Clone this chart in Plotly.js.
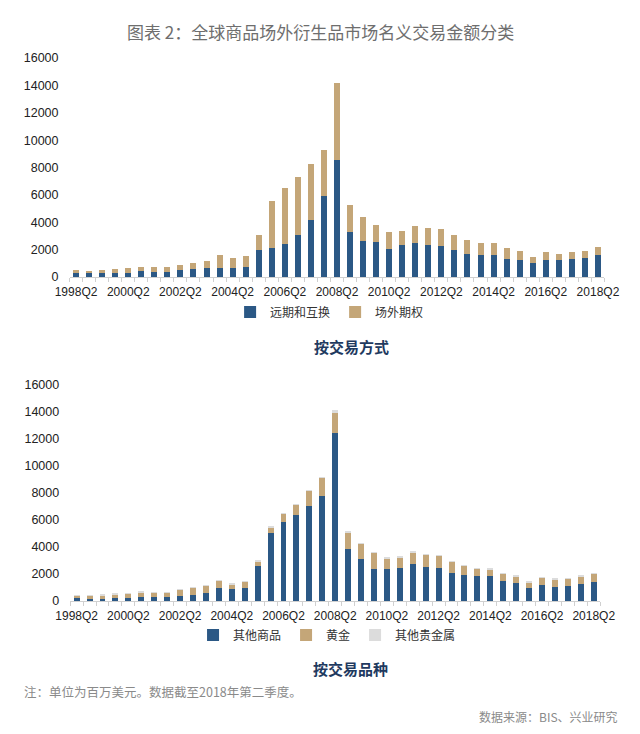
<!DOCTYPE html>
<html>
<head>
<meta charset="utf-8">
<script src="https://cdn.plot.ly/plotly-3.0.1.min.js"></script>
<style>html,body{margin:0;padding:0;background:#fff;}#chart{width:640px;height:734px;}</style>
</head>
<body>
<div id="chart"></div>
<script>
// Semi-annual periods 1998Q2 ... 2018Q2
const periods = [
  "1998Q2","1998Q4","1999Q2","1999Q4","2000Q2","2000Q4","2001Q2","2001Q4",
  "2002Q2","2002Q4","2003Q2","2003Q4","2004Q2","2004Q4","2005Q2","2005Q4",
  "2006Q2","2006Q4","2007Q2","2007Q4","2008Q2","2008Q4","2009Q2","2009Q4",
  "2010Q2","2010Q4","2011Q2","2011Q4","2012Q2","2012Q4","2013Q2","2013Q4",
  "2014Q2","2014Q4","2015Q2","2015Q4","2016Q2","2016Q4","2017Q2","2017Q4","2018Q2"
];
const tickLabels = ["1998Q2","2000Q2","2002Q2","2004Q2","2006Q2","2008Q2","2010Q2","2012Q2","2014Q2","2016Q2","2018Q2"];

// Panel 1: by transaction type
const forwardsSwaps = [270,270,270,320,320,410,360,340,490,610,660,680,680,750,1950,2120,2410,3070,4140,5950,8540,3280,2600,2530,2040,2310,2460,2360,2260,1950,1700,1610,1610,1310,1240,1000,1270,1240,1310,1360,1610];
const otcOptions   = [240,190,240,290,340,340,340,360,410,440,530,920,680,780,1090,3430,4110,4230,4130,3300,5600,1980,1800,1240,1240,1070,1260,1220,1220,1090,1000,900,900,810,660,480,530,440,490,540,560];

// Panel 2: by commodity type
const otherCommodities = [200,160,170,190,210,330,280,280,380,480,610,930,860,980,2600,5040,5840,6400,7050,7760,12460,3880,3100,2380,2380,2480,2710,2530,2430,2040,1920,1840,1840,1500,1350,980,1150,1030,1100,1250,1420];
const gold             = [180,200,210,290,290,270,280,280,400,450,490,540,340,400,320,400,590,720,1090,1320,1440,1160,1130,1190,700,720,810,850,870,820,640,500,470,470,420,390,520,540,520,540,590];
const otherPrecious    = [100,100,120,120,130,130,120,120,100,100,100,100,100,100,100,100,100,100,90,90,220,130,100,80,170,150,150,120,120,140,120,100,100,120,120,100,100,100,100,100,100];

const idx = periods.map((p, i) => i);
const tickIdx = tickLabels.map(t => periods.indexOf(t));

const BLUE = '#2b5885', TAN = '#c4a678', GRAY = '#dcdcdc';
const baseFont = '"Liberation Sans", Arial, sans-serif';
const cjk = '"Noto Sans CJK SC", sans-serif';

function bar(y, name, color, xa, ya, legend) {
  return {
    type: 'bar', x: idx, y: y, name: name, xaxis: xa, yaxis: ya, legend: legend,
    marker: {color: color, line: {width: 0}},
    customdata: periods, hovertemplate: '%{customdata}: %{y}<extra>' + name + '</extra>'
  };
}

const data = [
  bar(forwardsSwaps, '远期和互换', BLUE, 'x', 'y', 'legend'),
  bar(otcOptions, '场外期权', TAN, 'x', 'y', 'legend'),
  bar(otherCommodities, '其他商品', BLUE, 'x2', 'y2', 'legend2'),
  bar(gold, '黄金', TAN, 'x2', 'y2', 'legend2'),
  bar(otherPrecious, '其他贵金属', GRAY, 'x2', 'y2', 'legend2')
];

function xaxis(domain, anchor) {
  return {
    domain: domain, anchor: anchor, range: [-0.5, periods.length - 0.5],
    tickvals: tickIdx, ticktext: tickLabels, ticks: '', showgrid: false, zeroline: false,
    showline: true, linecolor: '#d0d0d0', linewidth: 1,
    tickfont: {family: baseFont, size: 12, color: '#222'},
    ticklabelstandoff: 4,
    minor: {tick0: 0.5, dtick: 1, ticks: 'outside', ticklen: 4, tickcolor: '#d0d0d0', showgrid: false},
    fixedrange: true
  };
}
function yaxis(domain, anchor) {
  return {
    domain: domain, anchor: anchor, range: [0, 16000], dtick: 2000, tickformat: 'd',
    showgrid: false, zeroline: false, showline: false, ticks: '',
    tickfont: {family: baseFont, size: 12.5, color: '#222'},
    ticklabelstandoff: 10, fixedrange: true
  };
}

const H = 734;
const py = px => 1 - px / H;

const layout = {
  width: 640, height: 734,
  margin: {l: 0, r: 0, t: 0, b: 0},
  paper_bgcolor: '#fff', plot_bgcolor: '#fff',
  barmode: 'stack', bargap: 0.54,
  showlegend: true,
  xaxis: xaxis([0.1086, 0.9445], 'y'),
  yaxis: yaxis([py(277), py(58)], 'x'),
  xaxis2: xaxis([0.1097, 0.9378], 'y2'),
  yaxis2: yaxis([py(601), py(385)], 'x2'),
  legend: {
    orientation: 'h', x: 0.515, xanchor: 'center', y: py(312), yanchor: 'middle',
    font: {family: cjk, size: 12, color: '#333'}, itemwidth: 30, tracegroupgap: 0,
    bgcolor: 'rgba(0,0,0,0)', traceorder: 'normal'
  },
  legend2: {
    orientation: 'h', x: 0.511, xanchor: 'center', y: py(635), yanchor: 'middle',
    font: {family: cjk, size: 12, color: '#333'}, itemwidth: 30, tracegroupgap: 0,
    bgcolor: 'rgba(0,0,0,0)', traceorder: 'normal'
  },
  annotations: [
    {text: '图表 2：全球商品场外衍生品市场名义交易金额分类', xref: 'paper', yref: 'paper',
     x: 0.5, y: py(31), xanchor: 'center', yanchor: 'middle', showarrow: false,
     font: {family: cjk, size: 17, color: '#6e6e6e'}},
    {text: '<b>按交易方式</b>', xref: 'paper', yref: 'paper',
     x: 351/640, y: py(346), xanchor: 'center', yanchor: 'middle', showarrow: false,
     font: {family: cjk, size: 15, color: '#1f3a60'}},
    {text: '<b>按交易品种</b>', xref: 'paper', yref: 'paper',
     x: 350/640, y: py(668), xanchor: 'center', yanchor: 'middle', showarrow: false,
     font: {family: cjk, size: 15, color: '#1f3a60'}},
    {text: '注：单位为百万美元。数据截至2018年第二季度。', xref: 'paper', yref: 'paper',
     x: 22/640, y: py(691), xanchor: 'left', yanchor: 'middle', showarrow: false,
     font: {family: cjk, size: 12.5, color: '#8a8a8a'}},
    {text: '数据来源：BIS、兴业研究', xref: 'paper', yref: 'paper',
     x: 620/640, y: py(716), xanchor: 'right', yanchor: 'middle', showarrow: false,
     font: {family: cjk, size: 12, color: '#8a8a8a'}}
  ]
};

Plotly.newPlot('chart', data, layout, {displayModeBar: false, staticPlot: true});
</script>
</body>
</html>
